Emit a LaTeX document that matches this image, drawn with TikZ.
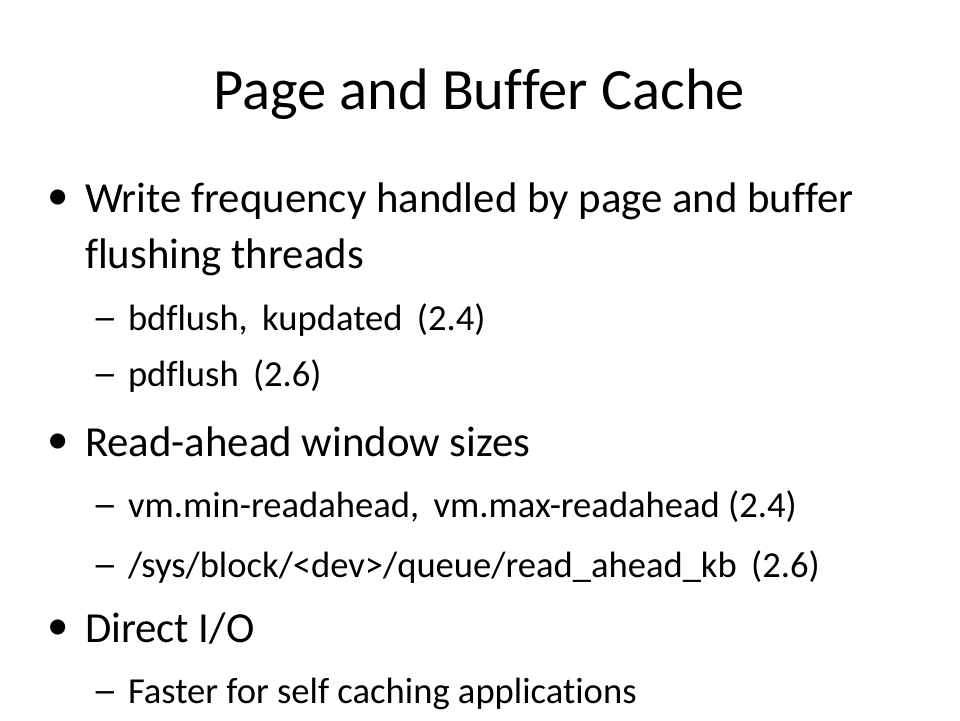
\documentclass[tikz,border=0pt]{standalone}
\usepackage{fontspec}
\setmainfont{Carlito}[Ligatures={NoCommon}]
\begin{document}
\begin{tikzpicture}[x=1pt,y=-1pt,
  every node/.style={inner sep=0pt,outer sep=0pt,anchor=base west,text=black},
  ttl/.style={font=\fontsize{58.5}{66}\selectfont,anchor=base},
  lone/.style={font=\fontsize{42.8}{50}\selectfont},
  ltwo/.style={font=\fontsize{36.6}{42}\selectfont},
  bul/.style={font=\fontsize{42.8}{50}\selectfont},
  dsh/.style={font=\fontsize{36.6}{42}\selectfont}]
\useasboundingbox[fill=white] (0,0) rectangle (960,720);
\node[ttl] (title) at (479,109) {Page and Buffer Cache};
\node[bul] (b1) at (47,209) {•};
\node[lone] (t1) at (85,212) {Write frequency handled by page and buffer};
\node[lone] (t1b) at (85,268) {flushing threads};
\node[dsh] (d1) at (92,330) {\scalebox{1.4}[1.05]{–}};
\node[ltwo] (s1) at (128,330) {bdflush,\, kupdated\, (2.4)};
\node[dsh] (d2) at (92,386) {\scalebox{1.4}[1.05]{–}};
\node[ltwo] (s2) at (128,386) {pdflush\, (2.6)};
\node[bul] (b2) at (47,453) {•};
\node[lone] (t2) at (85,456) {Read-ahead window sizes};
\node[dsh] (d3) at (92,517) {\scalebox{1.4}[1.05]{–}};
\node[ltwo] (s3) at (128,517) {vm.min-readahead,\, vm.max-readahead (2.4)};
\node[dsh] (d4) at (92,577) {\scalebox{1.4}[1.05]{–}};
\node[ltwo] (s4) at (128,577) {/sys/block/<dev>/queue/read\_ahead\_kb\, (2.6)};
\node[bul] (b3) at (47,639) {•};
\node[lone] (t3) at (85,642) {Direct I/O};
\node[dsh] (d5) at (92,703) {\scalebox{1.4}[1.05]{–}};
\node[ltwo] (s5) at (128,703) {Faster for self caching applications};
\end{tikzpicture}
\end{document}
